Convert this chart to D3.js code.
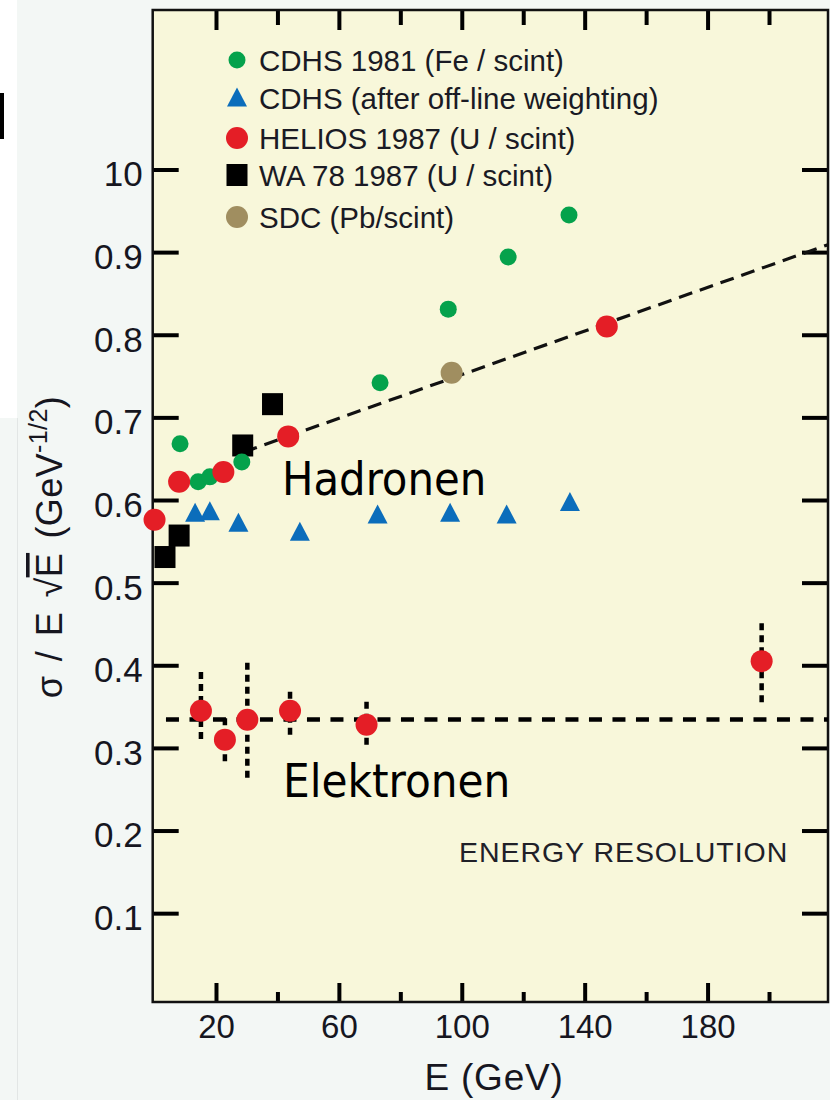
<!DOCTYPE html>
<html>
<head>
<meta charset="utf-8">
<script src="https://cdn.jsdelivr.net/npm/d3@7"></script>
<style>
  html, body { margin: 0; padding: 0; background: #f3f7f5; }
  svg { display: block; }
  .tick text { font-family: "Liberation Sans", Arial, sans-serif; fill: #16161f; }
</style>
</head>
<body>
<svg id="chart" width="830" height="1100"></svg>
<script>
// ---- data: sigma / (E sqrt E) versus beam energy E (GeV) ----
const cdhs1981 = [[8.3, 0.668], [14.2, 0.622], [18.0, 0.628], [28.4, 0.646],
                  [73.4, 0.742], [95.6, 0.831], [115.1, 0.894], [134.9, 0.945]];
const cdhsWeighted = [[13.2, 0.584], [18.0, 0.586], [27.3, 0.572], [47.3, 0.561],
                      [72.6, 0.582], [96.2, 0.584], [114.6, 0.582], [135.2, 0.597]];
const heliosHadron = [[0, 0.576], [8.0, 0.622], [22.4, 0.634], [43.5, 0.677], [147.2, 0.810]];
const wa78 = [[3.4, 0.531], [8.0, 0.557], [28.7, 0.666], [38.4, 0.716]];
const sdc = [[96.7, 0.754]];
// electron points: energy, value, lower and upper end of the error bar
const heliosElectronE  = [15.1, 22.9, 30.2, 44.1, 69.0, 197.6];
const heliosElectronV  = [0.345, 0.310, 0.334, 0.345, 0.328, 0.405];
const heliosElectronLo = [0.307, 0.279, 0.261, 0.314, 0.301, 0.352];
const heliosElectronHi = [0.392, 0.336, 0.403, 0.368, 0.356, 0.451];
// fitted trends
const hadronFit = [[29.0, 0.658], [219.2, 0.909]];
const electronLevel = 0.3345;

const legendLabels = ["CDHS 1981 (Fe / scint)", "CDHS (after off-line weighting)",
                      "HELIOS 1987 (U / scint)", "WA 78 1987 (U / scint)", "SDC (Pb/scint)"];
const yTicks = [0.1, 0.2, 0.3, 0.4, 0.5, 0.6, 0.7, 0.8, 0.9, 1.0];
const yTickLabels = ["0.1", "0.2", "0.3", "0.4", "0.5", "0.6", "0.7", "0.8", "0.9", "10"];
const xMajor = [20, 60, 100, 140, 180];
const xMinor = [40, 80, 120, 160, 200];

const colGreen = "#05a24c", colBlue = "#0b6dbb", colRed = "#e41e26",
      colBlack = "#000000", colTan = "#a08e60";

const svg = d3.select("#chart");
const L = 152.7, R = 828, T = 10, B = 1002;
const x = d3.scaleLinear().domain([-0.6, 219.2]).range([L, R]);
const y = d3.scaleLinear().domain([-0.0075, 1.193]).range([B, T]);

// page pieces
svg.append("rect").attr("x", 0).attr("y", 0).attr("width", 17).attr("height", 418).attr("fill", "#ffffff");
svg.append("line").attr("x1", 17.5).attr("x2", 17.5).attr("y1", 418).attr("y2", 1100)
   .attr("stroke", "#e2e6e5").attr("stroke-width", 1);
svg.append("rect").attr("x", 0).attr("y", 93).attr("width", 4).attr("height", 46).attr("fill", "#000");

// plot panel
svg.append("rect").attr("x", L).attr("y", T).attr("width", R - L).attr("height", B - T)
   .attr("fill", "#f8f7da");

// axes with inward ticks
function styleAxis(g, w) {
  g.select(".domain").remove();
  g.selectAll(".tick line").attr("stroke", "#000").attr("stroke-width", w);
}
svg.append("g").attr("transform", `translate(${L},0)`)
   .call(d3.axisLeft(y).tickValues(yTicks).tickSize(-26).tickPadding(10)
         .tickFormat((d, i) => yTickLabels[i]))
   .call(g => styleAxis(g, 4))
   .call(g => g.selectAll(".tick text").attr("font-size", 35).attr("dy", "0.47em"));
svg.append("g").attr("transform", `translate(${R},0)`)
   .call(d3.axisRight(y).tickValues(yTicks).tickSize(-26).tickFormat(""))
   .call(g => styleAxis(g, 4));
svg.append("g").attr("transform", `translate(0,${B})`)
   .call(d3.axisBottom(x).tickValues(xMajor).tickSize(-19).tickPadding(13).tickFormat(d3.format("d")))
   .call(g => styleAxis(g, 4))
   .call(g => g.selectAll(".tick text").attr("font-size", 33));
svg.append("g").attr("transform", `translate(0,${B})`)
   .call(d3.axisBottom(x).tickValues(xMinor).tickSize(-10).tickFormat(""))
   .call(g => styleAxis(g, 4));
svg.append("g").attr("transform", `translate(0,${T})`)
   .call(d3.axisTop(x).tickValues(xMajor).tickSize(-20).tickFormat(""))
   .call(g => styleAxis(g, 4));
svg.append("g").attr("transform", `translate(0,${T})`)
   .call(d3.axisTop(x).tickValues(xMinor).tickSize(-15).tickFormat(""))
   .call(g => styleAxis(g, 4));

// frame
svg.append("rect").attr("x", L).attr("y", T).attr("width", R - L).attr("height", B - T)
   .attr("fill", "none").attr("stroke", "#111").attr("stroke-width", 2.5);

// axis titles
svg.append("text").attr("x", 494).attr("y", 1090).attr("text-anchor", "middle")
   .attr("font-family", "Liberation Sans, Arial, sans-serif").attr("font-size", 37)
   .attr("letter-spacing", 0.8).attr("fill", "#16161f").text("E (GeV)");

const yt = svg.append("text").attr("transform", "translate(62,547) rotate(-90)")
   .attr("text-anchor", "middle").attr("font-family", "Liberation Sans, Arial, sans-serif")
   .attr("font-size", 36).attr("fill", "#16161f").attr("word-spacing", 4).attr("letter-spacing", 0.4);
yt.append("tspan").text("σ / E ");
yt.append("tspan").text("√");
yt.append("tspan").attr("text-decoration", "overline").text("E");
yt.append("tspan").text(" (GeV");
yt.append("tspan").attr("font-size", 25).attr("dy", -15).text("-1/2");
yt.append("tspan").attr("dy", 15).text(")");

// fit lines
const line = d3.line().x(d => x(d[0])).y(d => y(d[1]));
svg.append("path").datum(hadronFit).attr("d", line).attr("fill", "none")
   .attr("stroke", "#111").attr("stroke-width", 3.2).attr("stroke-dasharray", "14,8");
svg.append("line").attr("x1", x(0.3)).attr("x2", R).attr("y1", y(electronLevel)).attr("y2", y(electronLevel))
   .attr("stroke", "#000").attr("stroke-width", 4.5).attr("stroke-dasharray", "13,10.5")
   .attr("stroke-dashoffset", 13);

// electron error bars
svg.append("g").selectAll("line").data(heliosElectronE).join("line")
   .attr("x1", d => x(d)).attr("x2", d => x(d))
   .attr("y1", (d, i) => y(heliosElectronHi[i])).attr("y2", (d, i) => y(heliosElectronLo[i]))
   .attr("stroke", "#000").attr("stroke-width", 4.5).attr("stroke-dasharray", "7,5");

// markers
function triPath(w, h) {
  return `M0,${-h * 0.55}L${w / 2},${h * 0.45}L${-w / 2},${h * 0.45}Z`;
}
svg.append("g").selectAll("rect").data(wa78).join("rect")
   .attr("x", d => x(d[0]) - 10.5).attr("y", d => y(d[1]) - 11)
   .attr("width", 21).attr("height", 22).attr("fill", colBlack);
svg.append("g").selectAll("circle").data(cdhs1981).join("circle")
   .attr("cx", d => x(d[0])).attr("cy", d => y(d[1])).attr("r", 8.5).attr("fill", colGreen);
svg.append("g").selectAll("path").data(cdhsWeighted).join("path")
   .attr("transform", d => `translate(${x(d[0])},${y(d[1])})`)
   .attr("d", triPath(20, 19)).attr("fill", colBlue);
svg.append("g").selectAll("circle").data(heliosHadron).join("circle")
   .attr("cx", d => x(d[0])).attr("cy", d => y(d[1])).attr("r", 11).attr("fill", colRed);
svg.append("g").selectAll("circle").data(heliosElectronE).join("circle")
   .attr("cx", d => x(d)).attr("cy", (d, i) => y(heliosElectronV[i])).attr("r", 11).attr("fill", colRed);
svg.append("g").selectAll("circle").data(sdc).join("circle")
   .attr("cx", d => x(d[0])).attr("cy", d => y(d[1])).attr("r", 11).attr("fill", colTan);

// legend
const legendY = [60, 98, 138, 175, 217];
const lg = svg.append("g");
lg.append("circle").attr("cx", 237).attr("cy", legendY[0]).attr("r", 8.5).attr("fill", colGreen);
lg.append("path").attr("transform", `translate(237,${legendY[1]})`).attr("d", triPath(20, 19)).attr("fill", colBlue);
lg.append("circle").attr("cx", 237).attr("cy", legendY[2]).attr("r", 11).attr("fill", colRed);
lg.append("rect").attr("x", 226.5).attr("y", legendY[3] - 11).attr("width", 21).attr("height", 22).attr("fill", colBlack);
lg.append("circle").attr("cx", 237).attr("cy", legendY[4]).attr("r", 11).attr("fill", colTan);
lg.selectAll("text").data(legendLabels).join("text")
   .attr("x", 259).attr("y", (d, i) => legendY[i] + 10.5)
   .attr("font-family", "Liberation Sans, Arial, sans-serif").attr("font-size", 29.5)
   .attr("fill", "#1a1a24").text(d => d);

// annotations
const annFont = "'DejaVu Sans Condensed', 'DejaVu Sans', sans-serif";
svg.append("text").attr("x", 282).attr("y", 495).attr("font-family", annFont)
   .attr("font-stretch", "condensed").attr("font-size", 46.5).attr("fill", "#000").text("Hadronen");
svg.append("text").attr("x", 283).attr("y", 797).attr("font-family", annFont)
   .attr("font-stretch", "condensed").attr("font-size", 47).attr("fill", "#000").text("Elektronen");
svg.append("text").attr("x", 459).attr("y", 862)
   .attr("font-family", "Liberation Sans, Arial, sans-serif").attr("font-size", 28.5)
   .attr("letter-spacing", 0.95).attr("fill", "#202028").text("ENERGY RESOLUTION");
</script>
</body>
</html>
